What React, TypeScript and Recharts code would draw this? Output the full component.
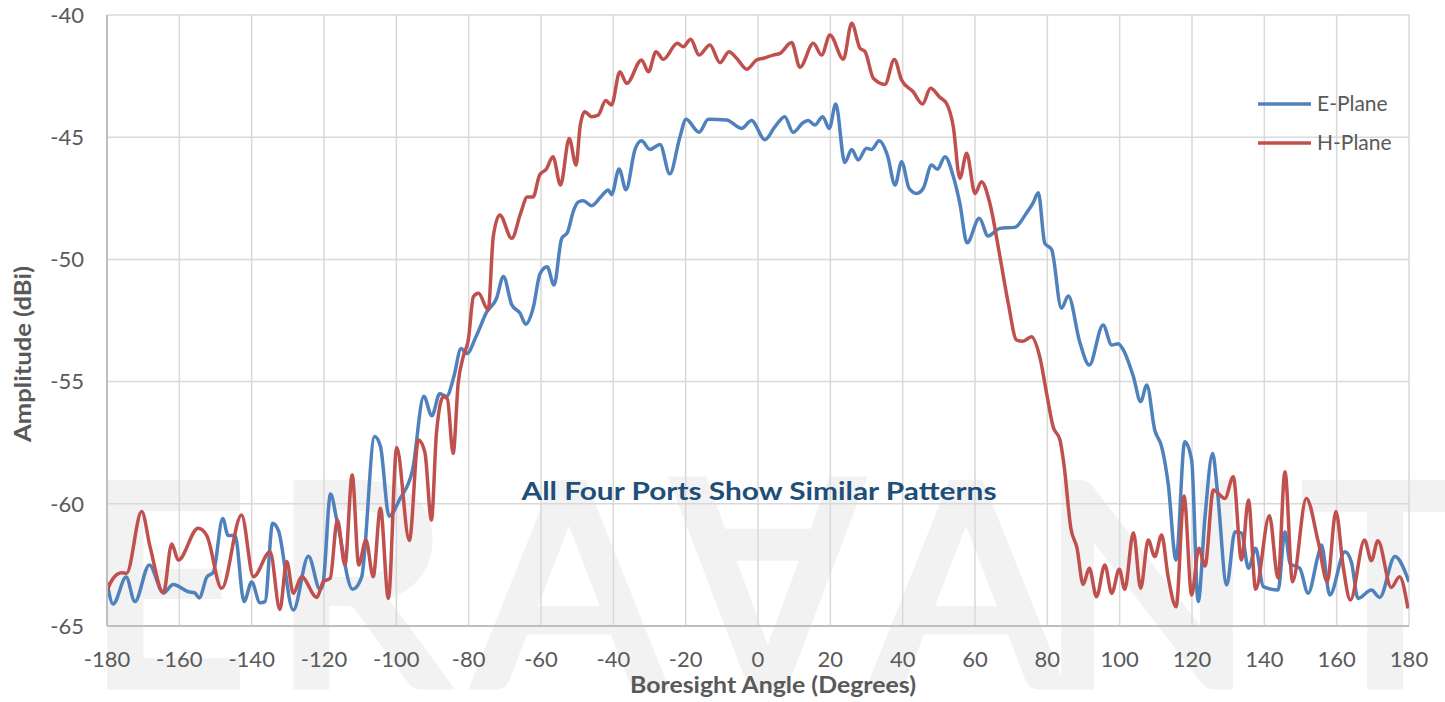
import React from 'react';
import { LineChart, Line, XAxis, YAxis, CartesianGrid } from 'recharts';

// ---- data ----
const E_ANGLES = [-180,-178.3,-174.7,-172.3,-168.3,-164.4,-161.7,-157.5,-155.7,-154.5,-152.4,-150.6,-148,-146.5,-144.6,-142.1,-140,-137.7,-136.3,-134.2,-132.6,-128.5,-124.3,-121.1,-120.3,-118.2,-116.4,-112.1,-109.6,-106,-104.4,-102,-99,-95.5,-92.4,-90.2,-88,-86.1,-84.1,-82.1,-80.5,-77.8,-75,-72.3,-70.4,-68.1,-65.8,-64.2,-62.1,-60.3,-58.3,-56.4,-54.3,-52.7,-51,-49.7,-48.3,-46,-43.5,-41.4,-40.5,-38.4,-36.5,-34,-32.2,-29.9,-27.1,-24.4,-21.6,-19.9,-16.3,-13.7,-8.7,-4.5,-1.8,1.9,4.7,7.4,9.7,12.5,13.9,15.7,17.9,19.7,21.5,24,25.9,27.7,30,31.4,33.5,35.8,37.9,39.7,41.8,43.9,45.7,48,49.6,51.7,54,55.8,57.8,61.2,63.6,66.9,71,74.2,76.1,77.5,79.3,81.2,83.9,85.8,89,91.6,95.4,97.8,99.6,101,103.8,105.8,107.5,109.7,111.6,113.4,115.6,118,119.9,121.7,123.6,125.7,127,129.6,131.9,133.7,135.6,137.6,139.7,143.8,145.7,147.1,149.8,152.1,154.9,155.8,158.1,162.3,164.1,165.9,169.6,171.9,176.1,180];
const E_DBI = [-63.2,-64.1,-63.0,-64.0,-62.5,-63.65,-63.3,-63.6,-63.65,-63.85,-63.0,-62.8,-60.6,-61.3,-61.3,-64.0,-63.2,-64.05,-64.0,-60.8,-61.1,-64.35,-62.15,-63.5,-63.3,-59.6,-60.7,-63.5,-63.0,-57.25,-57.65,-60.5,-59.8,-58.6,-55.6,-56.4,-55.5,-55.6,-54.8,-53.65,-53.85,-53.1,-52.15,-51.6,-50.7,-51.85,-52.2,-52.65,-51.95,-50.6,-50.3,-51.05,-49.15,-48.9,-48.0,-47.65,-47.6,-47.8,-47.45,-47.16,-47.35,-46.3,-47.15,-45.5,-45.15,-45.5,-45.3,-46.5,-45.0,-44.27,-44.8,-44.27,-44.3,-44.64,-44.32,-45.1,-44.57,-44.16,-44.8,-44.4,-44.32,-44.5,-44.16,-44.64,-43.64,-46.04,-45.5,-45.93,-45.45,-45.5,-45.15,-45.75,-46.96,-46.0,-47.1,-47.3,-47.09,-46.14,-46.31,-45.8,-46.61,-47.7,-49.32,-48.32,-49.04,-48.73,-48.69,-48.11,-47.68,-47.27,-49.34,-49.6,-52.0,-51.5,-53.4,-54.32,-52.68,-53.5,-53.45,-53.7,-54.8,-55.82,-55.14,-56.98,-57.66,-59.16,-62.3,-57.46,-58.21,-64.0,-60.53,-57.94,-59.44,-63.32,-61.14,-61.2,-62.64,-61.82,-63.39,-63.53,-61.14,-62.44,-62.64,-63.66,-62.1,-61.69,-63.73,-61.96,-62.4,-63.87,-63.53,-63.83,-62.16,-63.2];

const H_ANGLES = [-180,-178.3,-175.9,-174.6,-170.4,-168.1,-164.4,-162.1,-160.3,-154.8,-152.4,-148.3,-142.8,-139.5,-134.9,-132.2,-130.3,-128.5,-126.2,-122,-120.2,-118.3,-116.3,-114.2,-112.2,-110.4,-108.4,-106.4,-104.4,-102.2,-99.9,-96.4,-93.9,-92.1,-90.3,-88.9,-87,-85.9,-84.3,-82.9,-81.5,-80.1,-78.7,-77.3,-74.6,-73.2,-71.4,-68.1,-65.6,-63.8,-62.2,-60.4,-58.5,-56.7,-54.6,-52.2,-50.3,-49.2,-47.9,-46,-44.2,-42.1,-40.5,-38.2,-36.3,-32.2,-30.3,-28.2,-26.2,-22.3,-20.7,-18.6,-16.3,-13.3,-10.5,-8,-5.9,-3.1,-0.4,1.5,4.2,6.1,9.3,11.6,15.3,17.6,19.9,23.6,25.9,28.2,29.6,31.9,35.1,37.7,39.7,42.9,45.5,47.7,50.3,52.1,54,55.8,57.7,60,61.8,64.1,66.9,69.2,71.5,73.3,75.6,77.9,79.8,81.6,83.5,84.6,86.5,88.2,89.9,91.6,93.6,95.9,97.8,99.9,101.4,103.8,105.8,107.9,109.7,111.6,113.4,115.6,117.8,119.9,121.9,123.6,125.9,129.1,131.4,133.7,135.6,137.6,141.4,143.8,145.7,147.8,151.6,154.9,157.4,159.8,161.8,163.8,167.7,169.6,171.4,175.1,177.4,179.7];
const H_DBI = [-63.55,-63.05,-62.82,-62.84,-60.32,-61.75,-63.64,-61.64,-62.3,-61.0,-61.3,-63.46,-60.46,-62.98,-61.96,-64.32,-62.36,-63.66,-62.98,-63.83,-63.19,-63.05,-60.66,-62.5,-58.82,-62.5,-61.48,-62.98,-60.18,-63.87,-57.7,-61.5,-57.39,-57.9,-60.66,-57.1,-55.62,-55.7,-57.94,-55.07,-53.98,-53.3,-51.53,-51.39,-52.07,-49.07,-48.18,-49.14,-48.1,-47.45,-47.45,-46.55,-46.3,-45.8,-46.96,-45.05,-46.14,-44.57,-43.96,-44.16,-44.1,-43.5,-43.68,-42.32,-42.8,-41.84,-42.32,-41.5,-41.81,-41.16,-41.3,-40.99,-41.64,-41.23,-41.95,-41.5,-41.77,-42.22,-41.84,-41.77,-41.64,-41.57,-41.13,-42.14,-41.16,-41.64,-40.82,-41.81,-40.34,-41.36,-41.5,-42.59,-42.84,-41.82,-42.66,-43.14,-43.64,-43.0,-43.37,-43.61,-44.57,-46.68,-45.66,-47.3,-46.82,-47.7,-49.89,-51.8,-53.3,-53.35,-53.16,-53.98,-55.48,-56.85,-57.39,-58.4,-61.0,-61.8,-63.3,-62.64,-63.8,-62.5,-63.66,-62.68,-63.5,-61.18,-63.46,-61.48,-62.16,-61.28,-62.98,-64.21,-59.68,-63.73,-61.82,-62.54,-59.44,-59.78,-58.89,-62.3,-59.84,-63.5,-60.49,-63.05,-58.69,-63.19,-59.78,-61.55,-63.19,-60.32,-62.57,-63.94,-61.48,-62.33,-61.51,-63.42,-62.98,-64.28];

const SERIES_NAMES = ['E-Plane', 'H-Plane'];
const X_TICKS = [-180,-160,-140,-120,-100,-80,-60,-40,-20,0,20,40,60,80,100,120,140,160,180];
const Y_TICKS = [-65,-60,-55,-50,-45,-40];
const X_MINOR = Array.from({ length: 91 }, (_, i) => -180 + i * 4);
const Y_MINOR = Array.from({ length: 26 }, (_, i) => -65 + i);
const X_TITLE = 'Boresight Angle (Degrees)';
const Y_TITLE = 'Amplitude (dBi)';
const NOTE = 'All Four Ports Show Similar Patterns';
const WATERMARK = ['E', 'R', 'A', '\u2200', 'A', 'N', 'T'];

const eData = E_ANGLES.map((a, i) => ({ a, v: E_DBI[i] }));
const hData = H_ANGLES.map((a, i) => ({ a, v: H_DBI[i] }));

const BLUE = '#4f81bd';
const RED = '#c0504d';
const TEXT = '#595959';
const FONT = 'Lato, "Open Sans", sans-serif';

const W = 1445;
const H = 702;

const WM_CX = [167, 360, 569, 768, 966, 1147, 1385];

export default function App() {
  return (
    <div style={{ position: 'absolute', left: 0, top: 0, width: W, height: H, background: '#fff', overflow: 'hidden' }}>
      <svg width={W} height={H} style={{ position: 'absolute', left: 0, top: 0 }}>
        {WATERMARK.map((ch, i) => (
          <text key={i} x={WM_CX[i]} y={685} fontFamily={FONT} fontSize={280} fill="#f2f2f2" stroke="#f2f2f2" strokeWidth={9} strokeLinejoin="miter" textAnchor="middle">{ch}</text>
        ))}
      </svg>
      <div style={{ position: 'absolute', left: 0, top: 0 }}>
        <LineChart width={W} height={H} margin={{ top: 15, right: 36, bottom: 36, left: 47 }}>
          <CartesianGrid stroke="#d9d9d9" strokeWidth={1.5} />
          <XAxis
            type="number"
            dataKey="a"
            domain={[-180, 180]}
            ticks={X_TICKS}
            interval={0}
            allowDataOverflow
            height={40}
            tickLine={false}
            axisLine={{ stroke: '#bfbfbf', strokeWidth: 2 }}
            tick={{ fill: TEXT, fontSize: 22, fontFamily: FONT }}
            tickMargin={19}
          />
          <XAxis
            xAxisId="minor"
            type="number"
            dataKey="a"
            domain={[-180, 180]}
            ticks={X_MINOR}
            interval={0}
            allowDataOverflow
            mirror
            tick={false}
            axisLine={false}
            tickSize={5}
            tickLine={{ stroke: '#bfbfbf', strokeWidth: 1.5 }}
          />
          <YAxis
            type="number"
            domain={[-65, -40]}
            ticks={Y_TICKS}
            interval={0}
            allowDataOverflow
            width={60}
            tickLine={false}
            axisLine={{ stroke: '#bfbfbf', strokeWidth: 2 }}
            tick={{ fill: TEXT, fontSize: 22, fontFamily: FONT }}
            tickMargin={17}
          />
          <YAxis
            yAxisId="minor"
            type="number"
            domain={[-65, -40]}
            ticks={Y_MINOR}
            interval={0}
            allowDataOverflow
            mirror
            tick={false}
            axisLine={false}
            tickSize={5}
            tickLine={{ stroke: '#bfbfbf', strokeWidth: 1.5 }}
          />
          <Line data={eData} dataKey="v" name={SERIES_NAMES[0]} type="monotone" stroke={BLUE} strokeWidth={3.5} dot={false} isAnimationActive={false} />
          <Line data={hData} dataKey="v" name={SERIES_NAMES[1]} type="monotone" stroke={RED} strokeWidth={3.5} dot={false} isAnimationActive={false} />
        </LineChart>
      </div>
      <svg width={W} height={H} style={{ position: 'absolute', left: 0, top: 0, pointerEvents: 'none' }}>
        <text x={22} y={354} transform="rotate(-90 22 354)" textAnchor="middle" dominantBaseline="central" fontFamily={FONT} fontWeight={700} fontSize={22} fill={TEXT} textLength={176} lengthAdjust="spacingAndGlyphs">{Y_TITLE}</text>
        <text x={773} y={693} textAnchor="middle" fontFamily={FONT} fontWeight={700} fontSize={23} fill={TEXT} textLength={286} lengthAdjust="spacingAndGlyphs">{X_TITLE}</text>
        <text x={759} y={500} textAnchor="middle" fontFamily={FONT} fontWeight={700} fontSize={24} fill="#1f4e79" textLength={475} lengthAdjust="spacingAndGlyphs">{NOTE}</text>
        <line x1={1258} y1={104} x2={1311} y2={104} stroke={BLUE} strokeWidth={3.5} />
        <text x={1317} y={111} fontFamily={FONT} fontSize={21} fill={TEXT}>{SERIES_NAMES[0]}</text>
        <line x1={1258} y1={143} x2={1311} y2={143} stroke={RED} strokeWidth={3.5} />
        <text x={1317} y={150} fontFamily={FONT} fontSize={21} fill={TEXT}>{SERIES_NAMES[1]}</text>
      </svg>
    </div>
  );
}
